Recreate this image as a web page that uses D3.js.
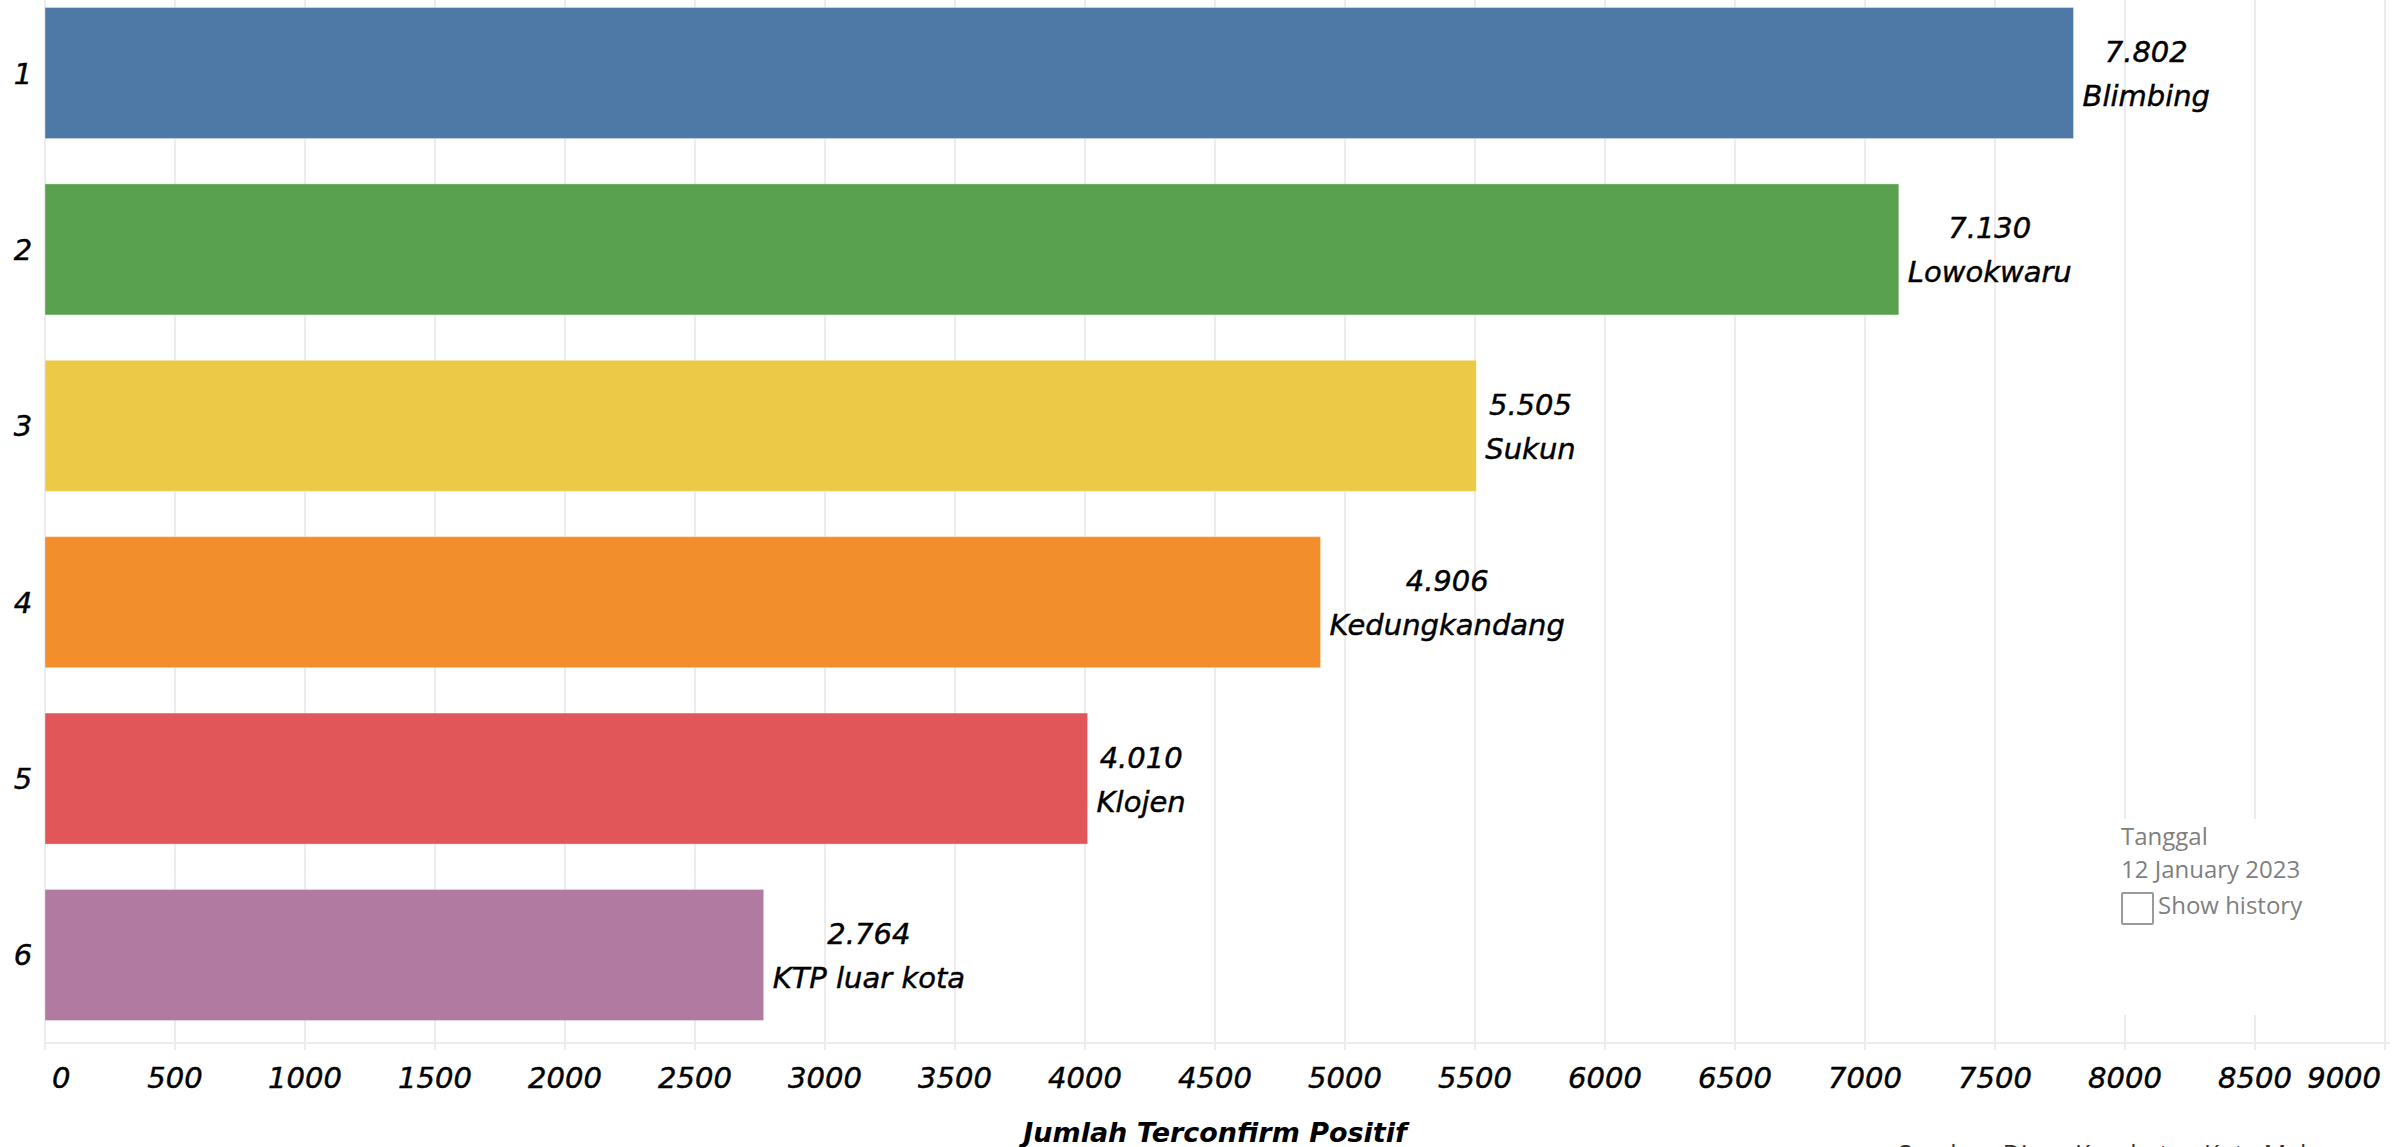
<!DOCTYPE html>
<html>
<head>
<meta charset="utf-8">
<script src="https://cdn.jsdelivr.net/npm/d3@7/dist/d3.min.js"></script>
<style>
  html, body { margin: 0; padding: 0; background: #ffffff; overflow: hidden; }
  svg { display: block; }
</style>
</head>
<body>
<svg id="chart" width="2399" height="1147"></svg>
<script>
// Kasus terkonfirmasi positif per kecamatan, diurutkan dari terbesar
const ranks = ["1", "2", "3", "4", "5", "6"];
const districts = ["Blimbing", "Lowokwaru", "Sukun", "Kedungkandang", "Klojen", "KTP luar kota"];
const confirmed = [7802, 7130, 5505, 4906, 4010, 2764];
const barColors = ["#4e79a7", "#59a14f", "#edc948", "#f28e2b", "#e15759", "#b07aa1"];
const xTicks = [0, 500, 1000, 1500, 2000, 2500, 3000, 3500, 4000, 4500, 5000, 5500, 6000, 6500, 7000, 7500, 8000, 8500, 9000];
const axisTitle = "Jumlah Terconfirm Positif";
const dateCaption = "Tanggal";
const dateValue = "12 January 2023";
const historyLabel = "Show history";
const sourceNote = "Sumber: Dinas Kesehatan Kota Malang";

const idLocale = d3.formatLocale({ decimal: ",", thousands: ".", grouping: [3], currency: ["Rp", ""] });
const fmtValue = idLocale.format(",d");

const svg = d3.select("#chart");

const x = d3.scaleLinear().domain([0, 9000]).range([45, 2385]);
const y = d3.scaleBand().domain(ranks).range([7.5, 1020.5]).paddingInner(0.257).paddingOuter(0);

const paneBottom = 1043;
const gridColor = "#ececec";
const labelFont = "'DejaVu Sans', Verdana, sans-serif";

// italic label style shared by ranks, values and ticks
function italicLabel(sel) {
  return sel
    .attr("font-family", labelFont)
    .attr("font-style", "italic")
    .attr("font-size", 29)
    .attr("fill", "#000")
    .attr("stroke", "#000")
    .attr("stroke-width", 0.45);
}

// vertical gridlines (with short tick extension below the pane)
svg.append("g")
  .selectAll("line")
  .data(xTicks)
  .join("line")
  .attr("x1", d => x(d)).attr("x2", d => x(d))
  .attr("y1", 0).attr("y2", paneBottom + 7)
  .attr("stroke", gridColor)
  .attr("stroke-width", 2);

// pane bottom rule
svg.append("line")
  .attr("x1", x(0)).attr("x2", x(9000) + 5)
  .attr("y1", paneBottom).attr("y2", paneBottom)
  .attr("stroke", gridColor)
  .attr("stroke-width", 2);

// bars
svg.append("g")
  .selectAll("rect")
  .data(confirmed)
  .join("rect")
  .attr("x", x(0))
  .attr("y", (d, i) => y(ranks[i]))
  .attr("width", d => x(d) - x(0))
  .attr("height", y.bandwidth())
  .attr("fill", (d, i) => barColors[i])
  .attr("stroke", "rgba(255,255,255,0.35)")
  .attr("stroke-width", 1);

// rank labels on the left
svg.append("g")
  .selectAll("text")
  .data(ranks)
  .join("text")
  .attr("x", 23)
  .attr("y", d => y(d) + y.bandwidth() / 2 + 10.5)
  .attr("text-anchor", "middle")
  .call(italicLabel)
  .text(d => d);

// value + district labels, two centred lines in a block right of each bar
const labelGroups = svg.append("g")
  .selectAll("g")
  .data(confirmed)
  .join("g");

labelGroups.each(function (d, i) {
  const g = d3.select(this);
  const cy = y(ranks[i]) + y.bandwidth() / 2;
  const t1 = g.append("text")
    .attr("y", cy - 11)
    .attr("text-anchor", "middle")
    .call(italicLabel)
    .text(fmtValue(d));
  const t2 = g.append("text")
    .attr("y", cy + 33)
    .attr("text-anchor", "middle")
    .call(italicLabel)
    .text(districts[i]);
  const w = Math.max(t1.node().getComputedTextLength(), t2.node().getComputedTextLength());
  const cx = x(d) + 9 + w / 2;
  t1.attr("x", cx);
  t2.attr("x", cx);
});

// date / history panel (white card over the gridlines)
svg.append("rect")
  .attr("x", 2110).attr("y", 819)
  .attr("width", 268).attr("height", 196)
  .attr("fill", "#ffffff");

const panelFont = "'Open Sans', 'Noto Sans', sans-serif";
svg.append("text")
  .attr("x", 2121).attr("y", 845)
  .attr("font-family", panelFont).attr("font-size", 24)
  .attr("fill", "#7f7f7f")
  .text(dateCaption);
svg.append("text")
  .attr("x", 2121).attr("y", 878)
  .attr("font-family", panelFont).attr("font-size", 24)
  .attr("fill", "#7f7f7f")
  .text(dateValue);
svg.append("rect")
  .attr("x", 2122).attr("y", 893)
  .attr("width", 31).attr("height", 31)
  .attr("rx", 1)
  .attr("fill", "#ffffff")
  .attr("stroke", "#9a9a9a")
  .attr("stroke-width", 2);
svg.append("text")
  .attr("x", 2158).attr("y", 914)
  .attr("font-family", panelFont).attr("font-size", 24)
  .attr("fill", "#7f7f7f")
  .text(historyLabel);

// x tick labels: first kept inside the pane, last right-aligned to its line
svg.append("g")
  .selectAll("text")
  .data(xTicks)
  .join("text")
  .attr("x", (d, i) => i === 0 ? x(d) + 7 : (i === xTicks.length - 1 ? x(d) - 4 : x(d)))
  .attr("y", 1088)
  .attr("text-anchor", (d, i) => i === 0 ? "start" : (i === xTicks.length - 1 ? "end" : "middle"))
  .call(italicLabel)
  .text(d => d);

// axis title
svg.append("text")
  .attr("x", (x(0) + x(9000)) / 2)
  .attr("y", 1142)
  .attr("text-anchor", "middle")
  .attr("font-family", labelFont)
  .attr("font-style", "italic")
  .attr("font-weight", "bold")
  .attr("font-size", 27)
  .attr("fill", "#000")
  .text(axisTitle);

// source note at the bottom edge of the page
svg.append("text")
  .attr("x", 1898)
  .attr("y", 1163)
  .attr("font-family", panelFont)
  .attr("font-size", 25)
  .attr("fill", "#333")
  .text(sourceNote);
</script>
</body>
</html>
